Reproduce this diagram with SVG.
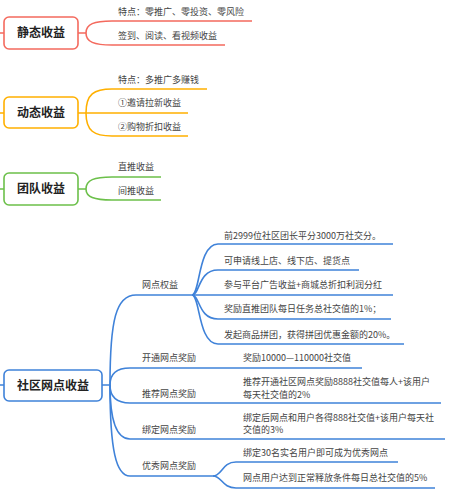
<svg xmlns="http://www.w3.org/2000/svg" width="450" height="496" viewBox="0 0 450 496">
<style>
.t{font-family:"Noto Sans CJK SC","Liberation Sans",sans-serif;font-size:9px;fill:#444}
.r{font-family:"Noto Sans CJK SC","Liberation Sans",sans-serif;font-size:12px;font-weight:bold;fill:#222;text-anchor:middle}
.box{fill:#fff;stroke-width:1.6}
.ln{fill:none;stroke-width:1.6}
.red{stroke:#F46A5E}.org{stroke:#FFB000}.grn{stroke:#6CC04A}.blu{stroke:#3F82D9}
</style>
<rect width="450" height="496" fill="#fff"/>
<g id="connectors">
<g class="ln red">
<path d="M0,33H4M78,33H86"/>
<path d="M86,33C86,24 94,21 112,21H252"/>
<path d="M86,33C86,42 94,45 112,45H225"/>
</g>
<g class="ln org">
<path d="M0,113H4M78,113H188"/>
<path d="M86,113C86,94 94,89 112,89H207"/>
<path d="M86,113C86,131 94,136 112,136H188"/>
</g>
<g class="ln grn">
<path d="M0,189H4M78,189H86"/>
<path d="M86,189C86,180 94,177 112,177H161"/>
<path d="M86,189C86,197 94,200 112,200H161"/>
</g>
<g class="ln blu">
<path d="M0,385H4M102,385H110"/>
<path d="M110,385C110,320 116,295 136,295H192"/>
<path d="M110,385C110,374 116,368 130,368H362"/>
<path d="M110,385C110,396 116,403 130,403H441"/>
<path d="M110,385C110,420 116,439 130,439H445"/>
<path d="M110,385C110,450 116,476 130,476H213"/>
<path d="M192,295C200,295 198,244 218,244H393"/>
<path d="M192,295C200,295 198,270 218,270H359"/>
<path d="M192,295H393"/>
<path d="M192,295C200,295 198,319 218,319H391"/>
<path d="M192,295C200,295 198,344 218,344H404"/>
<path d="M213,476C222,476 222,462 236,462H398"/>
<path d="M213,476C222,476 222,488 236,488H435"/>
</g>
</g>
<g id="static">
<rect class="box red" x="4" y="17" width="74" height="32" rx="5"/>
<text class="r" x="41" y="37">静态收益</text>
<text class="t" x="118" y="15">特点：零推广、零投资、零风险</text>
<text class="t" x="118" y="39">签到、阅读、看视频收益</text>
</g>
<g id="dynamic">
<rect class="box org" x="4" y="97" width="74" height="31" rx="5"/>
<text class="r" x="41" y="117">动态收益</text>
<text class="t" x="118" y="83">特点：多推广多赚钱</text>
<text class="t" x="118" y="106">①邀请拉新收益</text>
<text class="t" x="118" y="130">②购物折扣收益</text>
</g>
<g id="team">
<rect class="box grn" x="4" y="173" width="74" height="32" rx="5"/>
<text class="r" x="41" y="193">团队收益</text>
<text class="t" x="118" y="170">直推收益</text>
<text class="t" x="118" y="194">间推收益</text>
</g>
<g id="community">
<rect class="box blu" x="4" y="370" width="98" height="31" rx="5"/>
<text class="r" x="53" y="390">社区网点收益</text>
</g>
<g id="wangdian-quanyi">
<text class="t" x="142" y="288">网点权益</text>
<text class="t" x="224" y="239">前2999位社区团长平分3000万社交分。</text>
<text class="t" x="224" y="264">可申请线上店、线下店、提货点</text>
<text class="t" x="224" y="288">参与平台广告收益+商城总折扣利润分红</text>
<text class="t" x="224" y="312">奖励直推团队每日任务总社交值的1%；</text>
<text class="t" x="224" y="338">发起商品拼团，获得拼团优惠金额的20%。</text>
</g>
<g id="kaitong">
<text class="t" x="142" y="361">开通网点奖励</text>
<text class="t" x="243" y="361">奖励10000—110000社交值</text>
</g>
<g id="tuijian">
<text class="t" x="142" y="397">推荐网点奖励</text>
<text class="t" x="243" y="385">推荐开通社区网点奖励8888社交值每人+该用户</text>
<text class="t" x="243" y="398">每天社交值的2%</text>
</g>
<g id="bangding">
<text class="t" x="142" y="433">绑定网点奖励</text>
<text class="t" x="243" y="421">绑定后网点和用户各得888社交值+该用户每天社</text>
<text class="t" x="243" y="433">交值的3%</text>
</g>
<g id="youxiu">
<text class="t" x="142" y="469">优秀网点奖励</text>
<text class="t" x="243" y="456">绑定30名实名用户即可成为优秀网点</text>
<text class="t" x="243" y="481">网点用户达到正常释放条件每日总社交值的5%</text>
</g>
</svg>
